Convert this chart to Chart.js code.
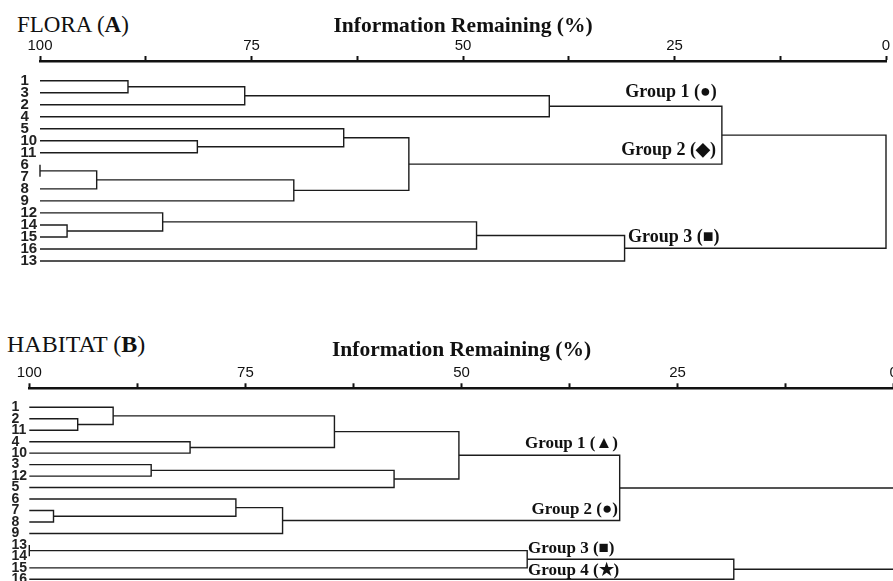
<!DOCTYPE html>
<html>
<head>
<meta charset="utf-8">
<script src="https://cdn.jsdelivr.net/npm/chart.js@4/dist/chart.umd.min.js"></script>
<style>
  html, body { margin:0; padding:0; background:#fff; width:893px; height:581px; overflow:hidden; }
  .panel { position:absolute; left:0; }
  .head { position:absolute; font-family:'Liberation Serif','Times New Roman',serif; line-height:23px; color:#111; white-space:nowrap; }
</style>
</head>
<body>
<div class="head" style="left:17px; top:12.5px; font-size:23px;">FLORA (<b>A</b>)</div>
<div class="head" style="left:7px; top:333px; font-size:24px;">HABITAT (<b>B</b>)</div>
<div class="panel" style="top:0; width:893px; height:300px;"><canvas id="chartA" width="893" height="300"></canvas></div>
<div class="panel" style="top:300px; width:900px; height:300px;"><canvas id="chartB" width="900" height="300"></canvas></div>
<script>
// ---------- DATA ----------
const axisTitle = 'Information Remaining (%)';
const tickLabelValues = [100, 75, 50, 25, 0];

// Panel A (FLORA): leaf order top to bottom
const leavesA = ['1','3','2','4','5','10','11','6','7','8','9','12','14','15','16','13'];
// merges: [child 1, child 2, information remaining (%) at fusion]; 'mN' = result of merge N
const mergesA = [
  ['1','3',89.6],    // m0
  ['m0','2',75.8],   // m1
  ['m1','4',39.8],   // m2  Group 1
  ['10','11',81.4],  // m3
  ['5','m3',64.1],   // m4
  ['6','7',100],     // m5
  ['m5','8',93.3],   // m6
  ['m6','9',70.0],   // m7
  ['m4','m7',56.4],  // m8  Group 2
  ['m2','m8',19.4],  // m9
  ['14','15',96.8],  // m10
  ['12','m10',85.5], // m11
  ['m11','16',48.4], // m12
  ['m12','13',30.9], // m13 Group 3
  ['m9','m13',0]     // m14
];
const groupNamesA = ['Group 1 (●)', 'Group 2 (◆)', 'Group 3 (■)'];

// Panel B (HABITAT)
const leavesB = ['1','2','11','4','10','3','12','5','6','7','8','9','13','14','15','16'];
const mergesB = [
  ['2','11',94.4],   // m0
  ['1','m0',90.3],   // m1
  ['4','10',81.4],   // m2
  ['m1','m2',64.7],  // m3
  ['3','12',85.9],   // m4
  ['m4','5',57.8],   // m5
  ['m3','m5',50.3],  // m6  Group 1
  ['7','8',97.2],    // m7
  ['6','m7',76.1],   // m8
  ['m8','9',70.7],   // m9  Group 2
  ['m6','m9',31.7],  // m10
  ['13','14',100],   // m11
  ['m11','15',42.4], // m12
  ['m12','16',18.5], // m13
  ['m10','m13',0]    // m14
];
const groupNamesB = ['Group 1 (▲)', 'Group 2 (●)', 'Group 3 (■)', 'Group 4 (★)'];

// ---------- LAYOUT (label anchors in data units, styles) ----------
const groupAnchorsA = [
  {x:20.0, y:1.0, align:'right'},
  {x:20.1, y:5.8, align:'right'},
  {x:30.5, y:13.0, align:'left'}
];
const groupAnchorsB = [
  {x:31.9, y:3.2, align:'right'},
  {x:31.9, y:8.9, align:'right'},
  {x:42.3, y:12.3, align:'left'},
  {x:42.3, y:14.2, align:'left'}
];

function buildSegments(leaves, merges) {
  const pos = {};
  leaves.forEach((l, i) => { pos[l] = {h:100, y:i}; });
  return merges.map((m, k) => {
    const a = pos[m[0]], b = pos[m[1]], H = m[2];
    pos['m' + k] = {h:H, y:(a.y + b.y) / 2};
    return [{x:a.h, y:a.y}, {x:H, y:a.y}, {x:H, y:b.y}, {x:b.h, y:b.y}];
  });
}

const NARROW = "'Liberation Sans Narrow', 'Arial Narrow', 'Liberation Sans', sans-serif";
const SERIF = "'Liberation Serif', 'Times New Roman', serif";

function makeChart(id, leaves, merges, names, anchors, cfg) {
  const segs = buildSegments(leaves, merges);
  const datasets = segs.map(s => ({
    data: s, showLine:true, pointRadius:0, borderColor:'#1c1c1c', borderWidth:1.4,
    tension:0, clip:false, fill:false
  }));
  const groupPlugin = {
    id:'groups',
    afterDatasetsDraw(chart) {
      const ctx = chart.ctx, xs = chart.scales.x, ys = chart.scales.y;
      ctx.save();
      ctx.font = 'bold ' + cfg.groupFont + 'px ' + SERIF;
      ctx.fillStyle = '#111';
      ctx.textBaseline = 'middle';
      names.forEach((t, i) => {
        const a = anchors[i];
        ctx.textAlign = a.align;
        ctx.fillText(t, xs.getPixelForValue(a.x), ys.getPixelForValue(a.y));
      });
      ctx.restore();
    }
  };
  return new Chart(document.getElementById(id), {
    type:'scatter',
    data:{datasets},
    plugins:[groupPlugin],
    options:{
      responsive:false, animation:false, events:[],
      layout:{padding:{left:cfg.padLeft, right:cfg.padRight, top:0, bottom:cfg.padBottom}},
      plugins:{legend:{display:false}, tooltip:{enabled:false}},
      scales:{
        x:{
          type:'linear', position:'top', reverse:true, min:0, max:100,
          afterFit(s){ s.height = cfg.axisY; },
          afterBuildTicks(s){
            const t = [];
            for (let v = 0; v <= 100; v += 12.5) t.push({value:v});
            s.ticks = t;
          },
          ticks:{
            autoSkip:false, maxRotation:0, padding:1, color:'#111',
            font:{family:NARROW, size:15},
            callback(v){ return tickLabelValues.includes(v) ? String(v) : ''; }
          },
          grid:{drawOnChartArea:false, drawTicks:true, tickLength:5, tickWidth:2, color:'#111'},
          border:{display:true, width:2.5, color:'#111'},
          title:{display:true, text:axisTitle, color:'#111',
                 font:{family:SERIF, size:21.5, weight:'bold'}, padding:{top:cfg.titlePad, bottom:0}}
        },
        y:{
          type:'linear', reverse:true, min:cfg.yMin, max:cfg.yMax,
          afterFit(s){ s.width = cfg.yWidth; },
          afterBuildTicks(s){ s.ticks = leaves.map((l, i) => ({value:i})); },
          ticks:{
            autoSkip:false, crossAlign:'far', padding:0, color:'#222',
            font:{family:NARROW, size:cfg.leafFont, weight:'bold'},
            callback(v){ return leaves[v]; }
          },
          grid:{display:false, drawTicks:false},
          border:{display:false}
        }
      }
    }
  });
}

makeChart('chartA', leavesA, mergesA, groupNamesA, groupAnchorsA, {
  padLeft:20.5, padRight:7, padBottom:27, axisY:61, yWidth:19.5,
  yMin:-1.64, yMax:16, titlePad:13.5, leafFont:15, groupFont:18
});
makeChart('chartB', leavesB, mergesB, groupNamesB, groupAnchorsB, {
  padLeft:11.5, padRight:6.3, padBottom:19, axisY:88.3, yWidth:17.8,
  yMin:-1.657, yMax:15.148, titlePad:38, leafFont:14, groupFont:17
});
</script>
</body>
</html>
